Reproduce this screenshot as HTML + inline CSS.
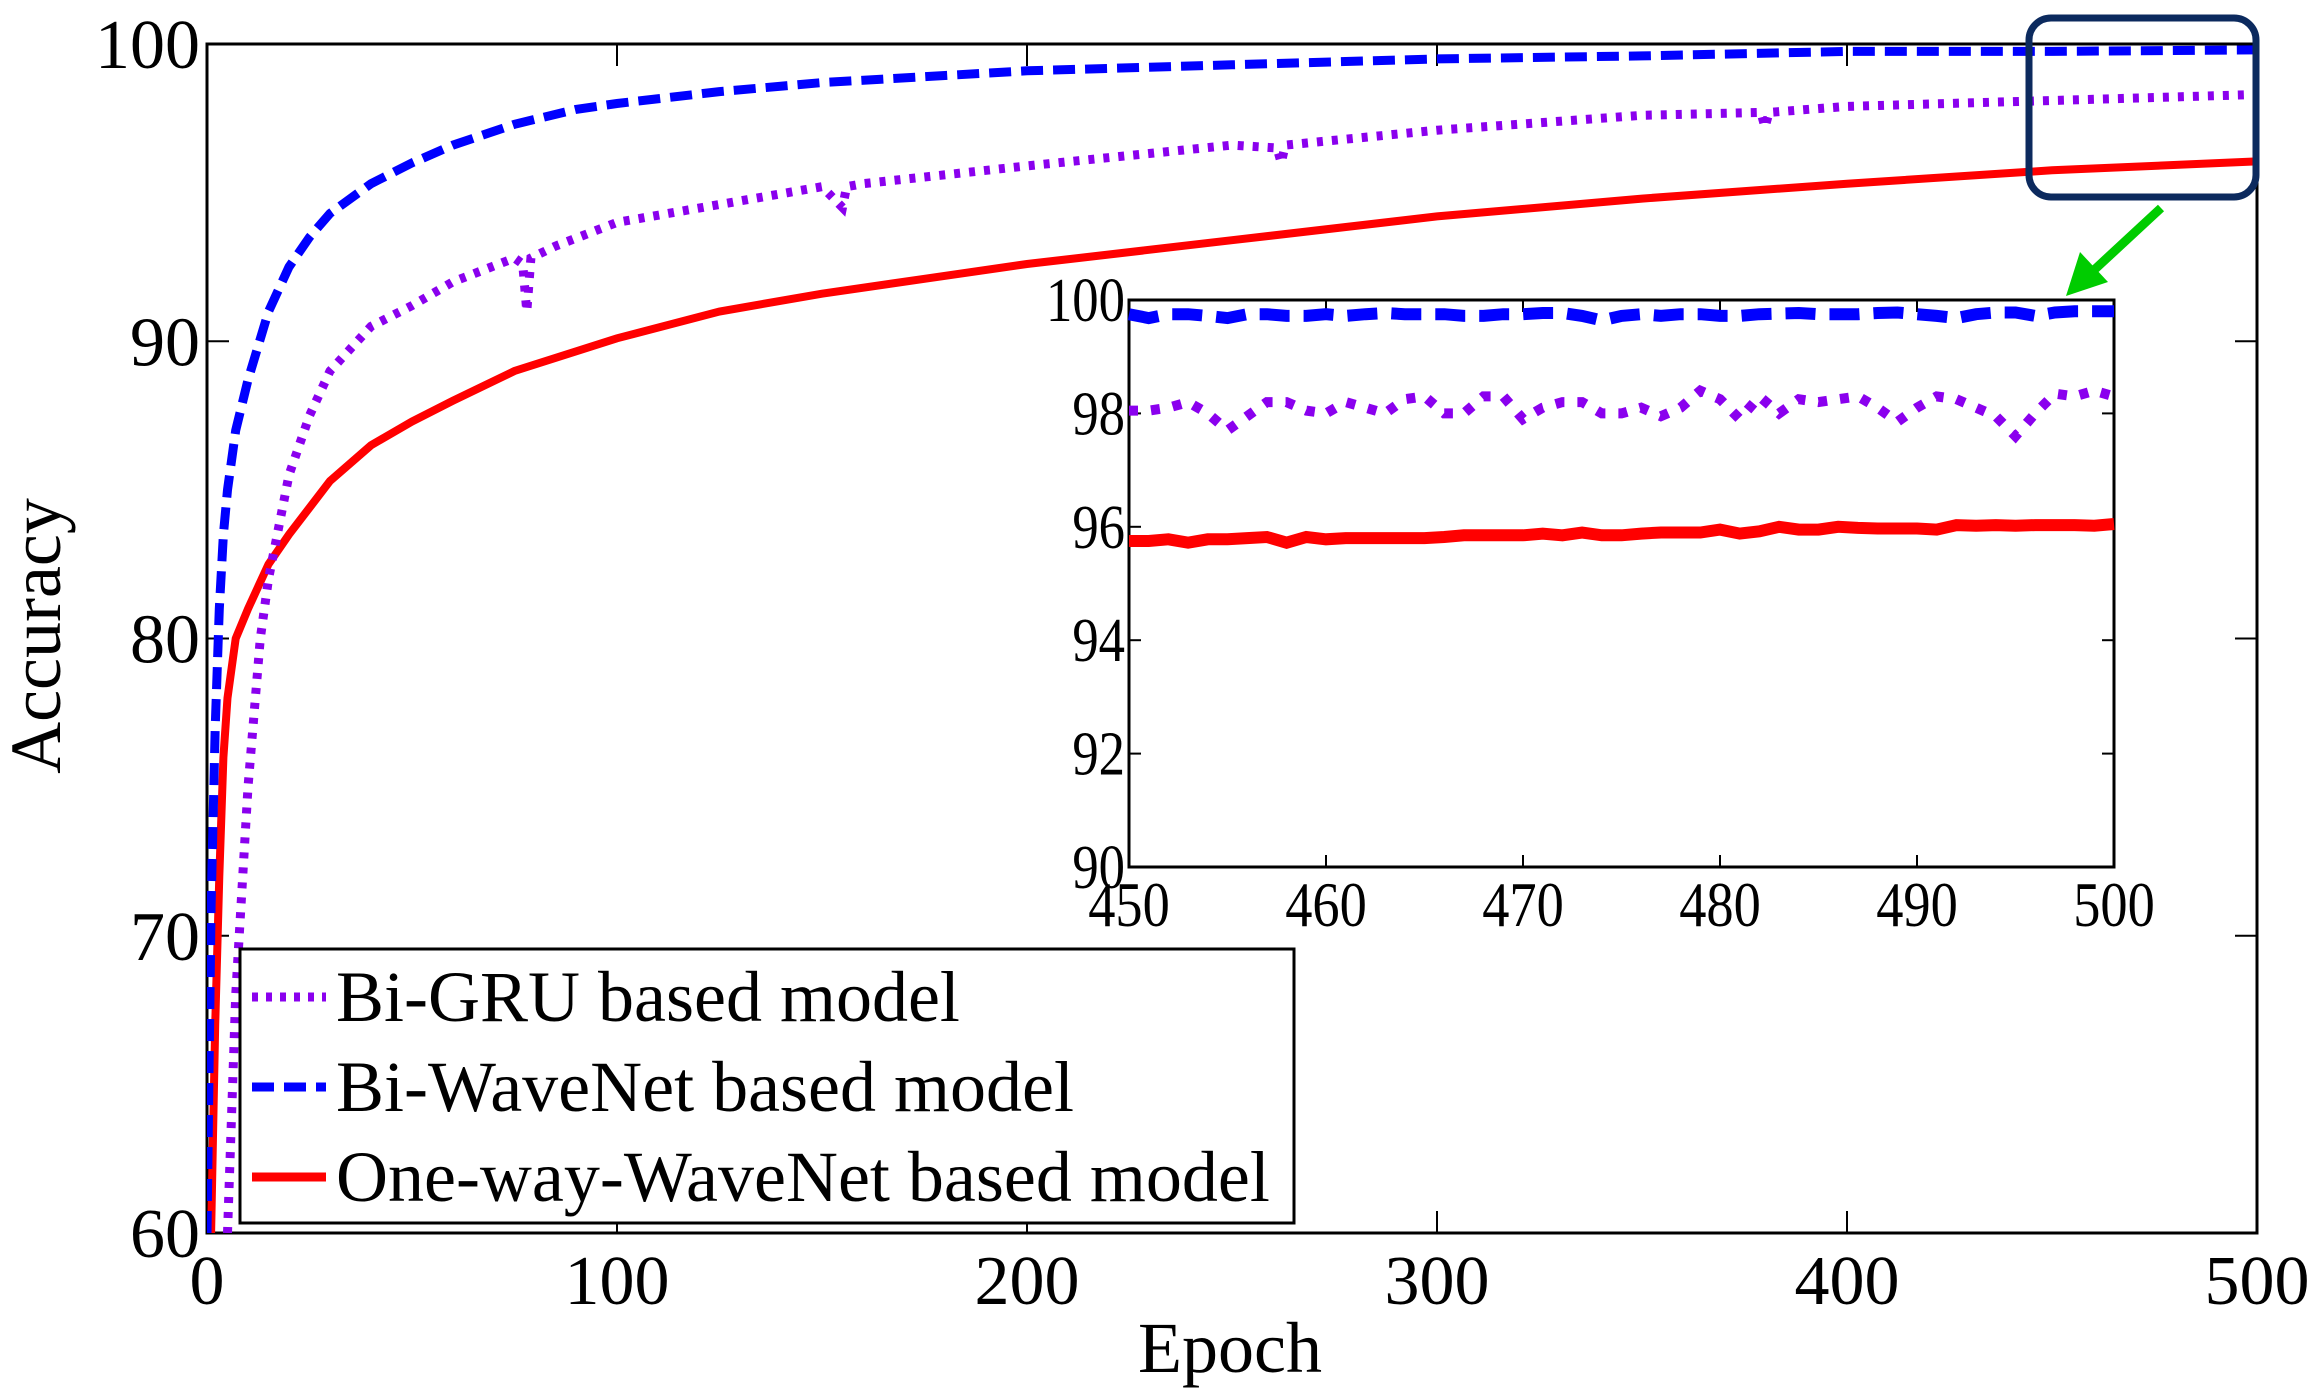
<!DOCTYPE html>
<html><head><meta charset="utf-8">
<style>
html,body{margin:0;padding:0;background:#fff;}
svg{display:block;font-family:"Liberation Serif",serif;}
</style></head>
<body>
<svg id="chart" width="2321" height="1398" viewBox="0 0 2321 1398" xmlns="http://www.w3.org/2000/svg">
<rect x="0" y="0" width="2321" height="1398" fill="#fff"/>
<g id="main"></g>
<g id="inset"></g>
<g id="legend"></g>
</svg>
<script>
// ---- main chart data ----
const mainXTicks = [0,100,200,300,400,500];
const mainYTicks = [60,70,80,90,100];
const epochsBlue = [0,1,2,3,4,5,7,10,15,20,25,30,40,50,60,75,90,100,125,150,175,200,250,300,350,400,450,500];
const valuesBlue = [60,71,77,81,83.5,85,87,88.7,91,92.5,93.5,94.3,95.3,96,96.6,97.3,97.8,98,98.4,98.7,98.9,99.1,99.3,99.5,99.6,99.75,99.75,99.8];
const epochsGRU = [5,7,10,13,15,20,25,30,40,50,60,75,77,78,79,85,100,125,150,155,156,160,200,250,261,262,263,300,350,379,380,381,400,450,500];
const valuesGRU = [60,68,75,80,82,85.5,87.5,89,90.5,91.2,92,92.8,92.6,91,92.8,93.2,94,94.6,95.2,94.5,95.2,95.3,95.9,96.6,96.5,96,96.6,97.1,97.6,97.7,97.2,97.7,97.9,98.1,98.3];
const epochsRed = [1,2,3,4,5,7,10,15,20,30,40,50,60,75,100,125,150,175,200,250,300,350,400,450,500];
const valuesRed = [60,67,72,76,78,80,81,82.5,83.5,85.3,86.5,87.3,88,89,90.1,91,91.6,92.1,92.6,93.4,94.2,94.8,95.3,95.75,96.05];
// ---- inset data (epochs 450..500) ----
const insetEpochs = Array.from({length:51},(_,i)=>450+i);
const insetXTicks = [450,460,470,480,490,500];
const insetYTicks = [90,92,94,96,98,100];
const insetBlue = [99.75,99.68,99.75,99.75,99.72,99.68,99.75,99.75,99.72,99.72,99.75,99.72,99.75,99.77,99.75,99.75,99.75,99.72,99.72,99.75,99.75,99.77,99.77,99.72,99.64,99.72,99.75,99.72,99.75,99.75,99.72,99.72,99.75,99.76,99.77,99.75,99.75,99.75,99.77,99.78,99.75,99.72,99.68,99.75,99.78,99.78,99.72,99.78,99.8,99.8,99.8];
const insetGRU = [98.05,98.05,98.1,98.2,98.0,97.7,97.95,98.2,98.2,98.05,98.0,98.2,98.1,98.0,98.25,98.3,98.0,98.0,98.3,98.3,97.9,98.1,98.2,98.2,98.0,98.0,98.1,97.95,98.1,98.4,98.25,97.9,98.3,98.0,98.25,98.2,98.25,98.3,98.1,97.85,98.1,98.3,98.25,98.1,97.95,97.6,98.0,98.35,98.3,98.4,98.3];
const insetRed = [95.75,95.75,95.78,95.72,95.78,95.78,95.8,95.82,95.72,95.82,95.78,95.8,95.8,95.8,95.8,95.8,95.82,95.85,95.85,95.85,95.85,95.88,95.85,95.9,95.85,95.85,95.88,95.9,95.9,95.9,95.95,95.88,95.92,96.0,95.95,95.95,96.0,95.98,95.97,95.97,95.97,95.95,96.03,96.02,96.03,96.02,96.03,96.03,96.03,96.02,96.05];

const NS="http://www.w3.org/2000/svg";
function mk(tag,attrs,parent){const e=document.createElementNS(NS,tag);for(const k in attrs)e.setAttribute(k,attrs[k]);parent.appendChild(e);return e;}

const M={l:207,r:2257,t:44,b:1233};
const mx=v=>M.l+(v-0)/(500-0)*(M.r-M.l);
const my=v=>M.b-(v-60)/(100-60)*(M.b-M.t);
const gm=document.getElementById('main');
function pts(xs,ys,fx,fy){return xs.map((x,i)=>fx(x).toFixed(1)+','+fy(ys[i]).toFixed(1)).join(' ');}

let e;
e=mk('rect',{x:M.l,y:M.t,width:M.r-M.l,height:M.b-M.t,fill:'none',stroke:'#000','stroke-width':3},gm);


mainXTicks.forEach(v=>{
  e=mk('line',{x1:mx(v),x2:mx(v),y1:M.b,y2:M.b-22,stroke:'#000','stroke-width':2},gm);
  
  
  mk('line',{x1:mx(v),x2:mx(v),y1:M.t,y2:M.t+22,stroke:'#000','stroke-width':2},gm);
  e=mk('text',{x:mx(v),y:1304,'font-size':70,'text-anchor':'middle'},gm);
  e.textContent=v;
  
  
});
mainYTicks.forEach(v=>{
  e=mk('line',{x1:M.l,x2:M.l+22,y1:my(v),y2:my(v),stroke:'#000','stroke-width':2},gm);
  
  
  mk('line',{x1:M.r,x2:M.r-22,y1:my(v),y2:my(v),stroke:'#000','stroke-width':2},gm);
  e=mk('text',{x:200,y:my(v)+24,'font-size':70,'text-anchor':'end'},gm);
  e.textContent=v;
  
  
});
e=mk('text',{x:1230,y:1372,'font-size':72,'text-anchor':'middle'},gm);
e.textContent='Epoch';


e=mk('text',{x:0,y:0,'font-size':72,'text-anchor':'middle',transform:'translate(60,636) rotate(-90)'},gm);
e.textContent='Accuracy';



const cp=mk('clipPath',{id:'mclip'},gm);
mk('rect',{x:M.l,y:M.t,width:M.r-M.l,height:M.b-M.t},cp);
e=mk('polyline',{points:pts(epochsRed,valuesRed,mx,my),fill:'none',stroke:'#ff0000','stroke-width':8,'clip-path':'url(#mclip)'},gm);


e=mk('polyline',{points:pts(epochsGRU,valuesGRU,mx,my),fill:'none',stroke:'#8a00ee','stroke-width':9,'stroke-dasharray':'6 9','clip-path':'url(#mclip)'},gm);


e=mk('polyline',{points:pts(epochsBlue,valuesBlue,mx,my),fill:'none',stroke:'#0000ff','stroke-width':9,'stroke-dasharray':'22 10','clip-path':'url(#mclip)'},gm);



e=mk('rect',{x:2029,y:18,width:227,height:179,rx:22,fill:'none',stroke:'#0c2a5e','stroke-width':7},gm);


e=mk('line',{x1:2161,y1:208,x2:2093,y2:271,stroke:'#00cc00','stroke-width':9},gm);


mk('polygon',{points:'2066,296 2080,252 2108,282',fill:'#00cc00'},gm);

const I={l:1129,r:2114,t:300,b:867};
const ix=v=>I.l+(v-450)/50*(I.r-I.l);
const iy=v=>I.b-(v-90)/10*(I.b-I.t);
const gi=document.getElementById('inset');
e=mk('rect',{x:I.l,y:I.t,width:I.r-I.l,height:I.b-I.t,fill:'#fff',stroke:'#000','stroke-width':3},gi);


insetXTicks.forEach(v=>{
  mk('line',{x1:ix(v),x2:ix(v),y1:I.b,y2:I.b-12,stroke:'#000','stroke-width':2},gi);
  mk('line',{x1:ix(v),x2:ix(v),y1:I.t,y2:I.t+12,stroke:'#000','stroke-width':2},gi);
  e=mk('text',{x:ix(v),y:926,'font-size':64,'text-anchor':'middle',transform:`translate(${ix(v)},0) scale(0.85,1) translate(${-ix(v)},0)`},gi);
  e.textContent=v;
  
  
});
insetYTicks.forEach(v=>{
  mk('line',{x1:I.l,x2:I.l+12,y1:iy(v),y2:iy(v),stroke:'#000','stroke-width':2},gi);
  mk('line',{x1:I.r,x2:I.r-12,y1:iy(v),y2:iy(v),stroke:'#000','stroke-width':2},gi);
  e=mk('text',{x:1125,y:iy(v)+21,'font-size':62,'text-anchor':'end',transform:`translate(1125,0) scale(0.85,1) translate(-1125,0)`},gi);
  e.textContent=v;
  
  
});
e=mk('polyline',{points:pts(insetEpochs,insetRed,ix,iy),fill:'none',stroke:'#ff0000','stroke-width':12},gi);


e=mk('polyline',{points:pts(insetEpochs,insetGRU,ix,iy),fill:'none',stroke:'#8a00ee','stroke-width':10,'stroke-dasharray':'9 13'},gi);


e=mk('polyline',{points:pts(insetEpochs,insetBlue,ix,iy),fill:'none',stroke:'#0000ff','stroke-width':12,'stroke-dasharray':'30 14'},gi);



const gl=document.getElementById('legend');
e=mk('rect',{x:240,y:949,width:1054,height:274,fill:'#fff',stroke:'#000','stroke-width':3},gl);


const legNames=['Bi-GRU based model','Bi-WaveNet based model','One-way-WaveNet based model'];
const legColors=['#8a00ee','#0000ff','#ff0000'];
const legDash=['6 8','22 10','none'];
const legY=[997,1087,1177];
legNames.forEach((n,i)=>{
  e=mk('line',{x1:252,x2:326,y1:legY[i],y2:legY[i],stroke:legColors[i],'stroke-width':9,'stroke-dasharray':legDash[i]},gl);
  
  
  e=mk('text',{x:336,y:legY[i]+24,'font-size':72},gl);
  e.textContent=n;
  
  
});
</script>
</body></html>
